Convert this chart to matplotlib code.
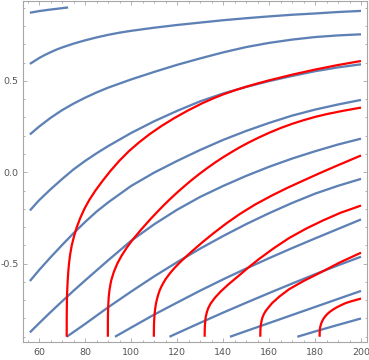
import matplotlib
matplotlib.use("Agg")
import matplotlib.pyplot as plt
from matplotlib.ticker import MultipleLocator, FormatStrFormatter

# Blue contour family
blue_1_x = [56, 60, 64, 68, 72.6]
blue_1_y = [0.873, 0.882, 0.889, 0.895, 0.902]

blue_2_x = [56, 58, 60, 62.5, 65, 67.5, 70, 75, 80, 85, 90, 95, 100, 110, 120, 130, 140, 150, 160,
            170, 180, 190, 200]
blue_2_y = [0.593, 0.609, 0.625, 0.642, 0.657, 0.671, 0.683, 0.704, 0.722, 0.738, 0.752, 0.764,
            0.774, 0.791, 0.806, 0.819, 0.832, 0.843, 0.853, 0.862, 0.869, 0.877, 0.883]

blue_3_x = [56, 60, 65, 70, 75, 80, 85, 90, 100, 110, 120, 130, 140, 150, 160, 170, 180, 190, 200]
blue_3_y = [0.207, 0.25, 0.298, 0.34, 0.376, 0.408, 0.437, 0.463, 0.508, 0.549, 0.588, 0.623, 0.656,
            0.685, 0.708, 0.726, 0.740, 0.749, 0.755]

blue_4_x = [56, 60, 65, 70, 75, 80, 85, 90, 100, 110, 120, 130, 140, 150, 160, 170, 180, 190, 200]
blue_4_y = [-0.209, -0.153, -0.093, -0.037, 0.016, 0.062, 0.104, 0.143, 0.215, 0.279, 0.336, 0.388,
            0.431, 0.467, 0.499, 0.527, 0.553, 0.574, 0.591]

blue_5_x = [56, 60, 65, 70, 75, 80, 85, 90, 100, 110, 120, 130, 140, 150, 160, 170, 180, 190, 200]
blue_5_y = [-0.595, -0.535, -0.465, -0.398, -0.333, -0.272, -0.215, -0.165, -0.075, -0.002, 0.062,
            0.122, 0.177, 0.226, 0.27, 0.31, 0.343, 0.371, 0.396]

blue_6_x = [56, 60, 65, 70, 75, 80, 85, 90, 100, 110, 120, 130, 140, 150, 160, 170, 180, 190, 200]
blue_6_y = [-0.876, -0.826, -0.765, -0.706, -0.648, -0.592, -0.537, -0.482, -0.375, -0.285, -0.205,
            -0.135, -0.075, -0.02, 0.03, 0.075, 0.115, 0.152, 0.184]

blue_7_x = [72, 80, 90, 100, 110, 120, 130, 140, 150, 160, 170, 180, 190, 200]
blue_7_y = [-0.9, -0.83, -0.739, -0.653, -0.57, -0.492, -0.418, -0.349, -0.284, -0.224, -0.168,
            -0.117, -0.074, -0.036]

blue_8_x = [93, 100, 110, 120, 130, 140, 150, 160, 170, 180, 190, 200]
blue_8_y = [-0.9, -0.85, -0.779, -0.713, -0.648, -0.586, -0.527, -0.47, -0.415, -0.362, -0.31, -0.258]

blue_9_x = [116.7, 120, 130, 140, 150, 160, 170, 180, 190, 200]
blue_9_y = [-0.9, -0.881, -0.824, -0.768, -0.714, -0.661, -0.609, -0.558, -0.509, -0.462]

blue_10_x = [143, 150, 160, 170, 180, 190, 200]
blue_10_y = [-0.9, -0.869, -0.825, -0.781, -0.737, -0.693, -0.649]

blue_11_x = [172.3, 180, 190, 200]
blue_11_y = [-0.9, -0.871, -0.835, -0.8]

# Red contour family
red_1_x = [72.0, 72.01, 72.02, 72.05, 72.1, 72.22, 72.4, 72.65, 73.0, 73.5, 74.2, 75.2, 76.4, 77.9,
           79.7, 81.9, 84.5, 87.6, 91, 94.9, 99, 103.4, 108, 113.3, 119, 125, 131, 135.5, 140, 145,
           150, 155, 160, 170, 180, 190, 200]
red_1_y = [-0.9, -0.85, -0.8, -0.75, -0.7, -0.65, -0.6, -0.55, -0.5, -0.45, -0.4, -0.35, -0.3,
           -0.25, -0.2, -0.15, -0.1, -0.047, 0.007, 0.063, 0.115, 0.163, 0.208, 0.254, 0.298, 0.34,
           0.378, 0.403, 0.426, 0.448, 0.468, 0.486, 0.503, 0.534, 0.562, 0.587, 0.609]

red_2_x = [89.9, 89.91, 89.92, 89.98, 90.1, 90.3, 90.6, 91.0, 91.4, 92.5, 94, 95.8, 98, 100.3, 104,
           108.3, 111, 114, 117, 120, 123, 126, 129.5, 133, 136.5, 140, 143.5, 147, 151, 155, 160,
           165, 170, 175, 180, 185, 192, 200]
red_2_y = [-0.9, -0.85, -0.8, -0.76, -0.72, -0.68, -0.645, -0.615, -0.59, -0.545, -0.5, -0.458,
           -0.415, -0.375, -0.319, -0.258, -0.222, -0.183, -0.146, -0.111, -0.078, -0.046, -0.011,
           0.022, 0.053, 0.082, 0.109, 0.135, 0.162, 0.187, 0.216, 0.242, 0.265, 0.285, 0.303,
           0.318, 0.336, 0.354]

red_3_x = [109.9, 109.92, 109.95, 110.05, 110.2, 110.45, 110.8, 111.25, 111.8, 112.4, 113.2, 114.1,
           115, 117, 119, 121, 123.7, 126.4, 131, 135.8, 141.5, 147.2, 154, 161.4, 168, 176, 182,
           188, 194, 200]
red_3_y = [-0.9, -0.87, -0.84, -0.81, -0.78, -0.75, -0.72, -0.695, -0.67, -0.647, -0.625, -0.604,
           -0.585, -0.551, -0.522, -0.496, -0.464, -0.433, -0.383, -0.334, -0.279, -0.229, -0.176,
           -0.126, -0.085, -0.039, -0.005, 0.028, 0.06, 0.092]

red_4_x = [132.0, 132.02, 132.1, 132.25, 132.5, 132.9, 133.5, 134.6, 136.5, 139, 142, 147.2, 151.5,
           155.7, 162, 168.7, 176, 183.2, 191, 200]
red_4_y = [-0.9, -0.87, -0.84, -0.815, -0.79, -0.768, -0.745, -0.718, -0.686, -0.652, -0.617,
           -0.562, -0.516, -0.474, -0.416, -0.36, -0.309, -0.265, -0.222, -0.182]

red_5_x = [156.2, 156.22, 156.3, 156.5, 156.8, 157.2, 157.8, 158.5, 159.4, 161.4, 164.5, 168.7, 175,
           183.2, 191, 200]
red_5_y = [-0.9, -0.875, -0.85, -0.83, -0.81, -0.792, -0.775, -0.76, -0.745, -0.715, -0.68, -0.64,
           -0.595, -0.543, -0.492, -0.44]

red_6_x = [182.0, 182.02, 182.1, 182.25, 182.5, 182.85, 183.3, 183.8, 184.5, 185.3, 186.3, 187.5,
           189, 190.7, 192.5, 194.2, 196, 198, 200]
red_6_y = [-0.9, -0.88, -0.86, -0.847, -0.835, -0.822, -0.81, -0.799, -0.787, -0.776, -0.765,
           -0.754, -0.742, -0.731, -0.72, -0.712, -0.705, -0.698, -0.691]

blue_curves = [
    (blue_1_x, blue_1_y), (blue_2_x, blue_2_y), (blue_3_x, blue_3_y), (blue_4_x, blue_4_y),
    (blue_5_x, blue_5_y), (blue_6_x, blue_6_y), (blue_7_x, blue_7_y), (blue_8_x, blue_8_y),
    (blue_9_x, blue_9_y), (blue_10_x, blue_10_y), (blue_11_x, blue_11_y),
]
red_curves = [
    (red_1_x, red_1_y), (red_2_x, red_2_y), (red_3_x, red_3_y),
    (red_4_x, red_4_y), (red_5_x, red_5_y), (red_6_x, red_6_y),
]

blue = "#5e81b5"
red = "#ff0000"
frame_gray = "#a6a6a6"
label_gray = "#555555"

plt.rcParams["axes.unicode_minus"] = False
plt.rcParams["font.family"] = ["DejaVu Sans"]

fig = plt.figure(figsize=(3.69, 3.60), dpi=100)
ax = fig.add_axes([23 / 369, 1 - 341.7 / 360, 344 / 369, 341.2 / 360])

for xs, ys in blue_curves:
    ax.plot(xs, ys, color=blue, linewidth=1.65, solid_capstyle="butt",
            solid_joinstyle="round", zorder=2)
for xs, ys in red_curves:
    ax.plot(xs, ys, color=red, linewidth=1.6, solid_capstyle="butt",
            solid_joinstyle="round", zorder=3)

ax.set_xlim(53.0, 202.6)
ax.set_ylim(-0.927, 0.94)

ax.xaxis.set_major_locator(MultipleLocator(20))
ax.xaxis.set_minor_locator(MultipleLocator(5))
ax.yaxis.set_major_locator(MultipleLocator(0.5))
ax.yaxis.set_minor_locator(MultipleLocator(0.1))
ax.yaxis.set_major_formatter(FormatStrFormatter("%.1f"))

ax.tick_params(which="both", direction="in", top=True, right=True, color=frame_gray,
               width=0.6, labelsize=6.8, labelcolor=label_gray)
ax.tick_params(which="major", length=2.6)
ax.tick_params(which="minor", length=1.5)
ax.tick_params(axis="x", which="major", pad=4.5)
ax.tick_params(axis="y", which="major", pad=3)

for sp in ax.spines.values():
    sp.set_color(frame_gray)
    sp.set_linewidth(0.8)

fig.savefig("out.png", dpi=100)
